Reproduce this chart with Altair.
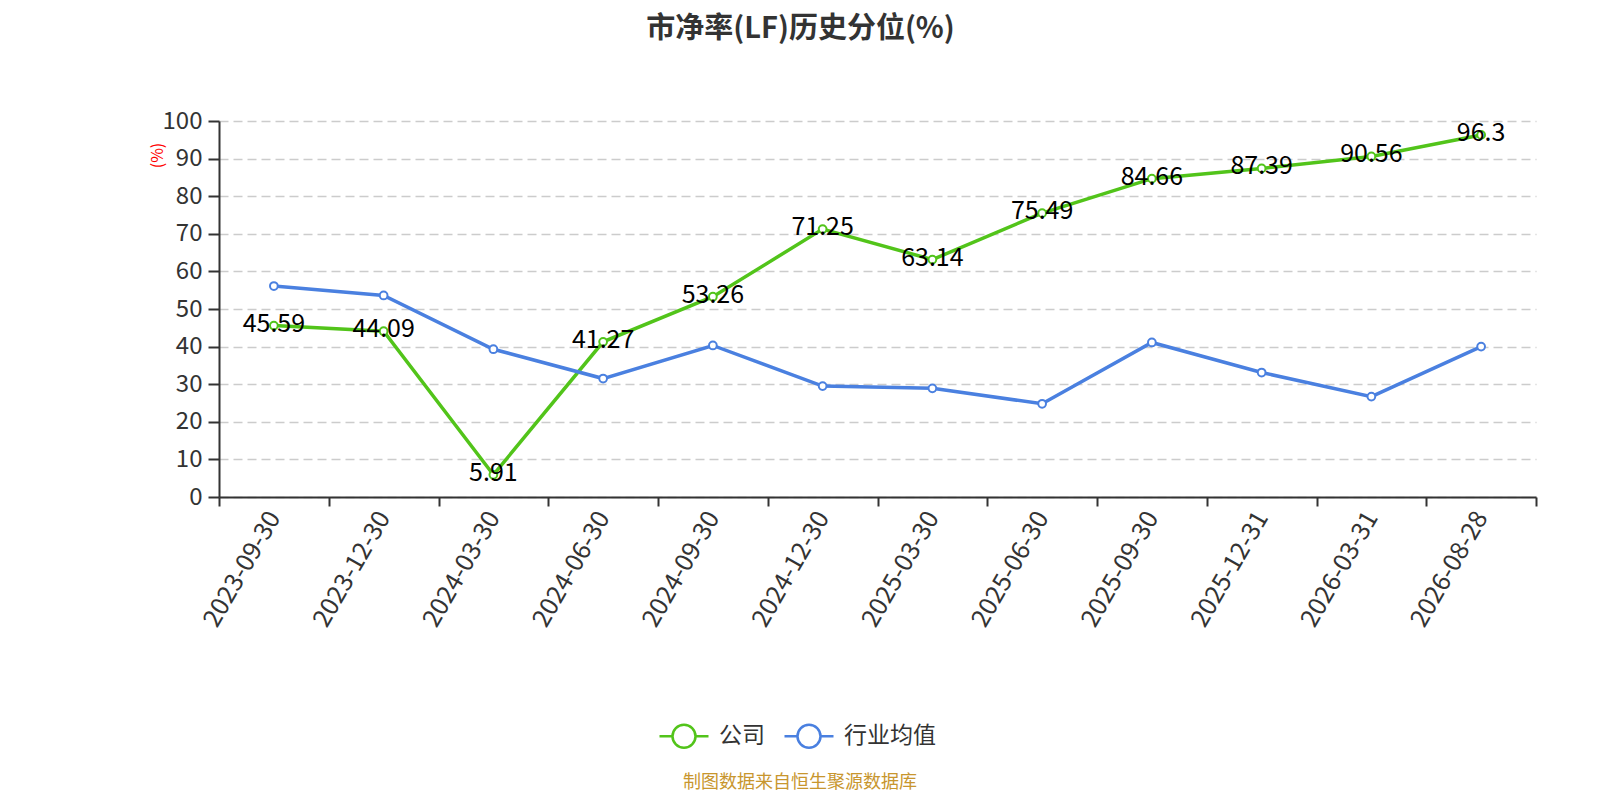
import altair as alt
import pandas as pd

dates = ["2023-09-30", "2023-12-30", "2024-03-30", "2024-06-30", "2024-09-30", "2024-12-30",
         "2025-03-30", "2025-06-30", "2025-09-30", "2025-12-31", "2026-03-31", "2026-08-28"]
company = [45.59, 44.09, 5.91, 41.27, 53.26, 71.25, 63.14, 75.49, 84.66, 87.39, 90.56, 96.3]
industry = [56.1, 53.6, 39.3, 31.5, 40.3, 29.5, 28.9, 24.8, 41.1, 33.1, 26.7, 40.0]
series_names = ["公司", "行业均值"]
series_colors = ["#52c41a", "#4a80e0"]
y_ticks = list(range(0, 101, 10))

rows = []
for d, c, i in zip(dates, company, industry):
    rows.append({"date": d, "series": series_names[0], "value": c, "label": f"{c:g}"})
    rows.append({"date": d, "series": series_names[1], "value": i, "label": ""})
df = pd.DataFrame(rows)
df_company = df[df["series"] == series_names[0]]

FONT = "Noto Sans CJK SC"
W, H = 1317, 376

x_enc = alt.X(
    "date:N",
    sort=dates,
    bandPosition=0.5,
    scale=alt.Scale(type="band", paddingInner=0, paddingOuter=0),
    axis=alt.Axis(
        title=None,
        labelAngle=-60,
        labelFontSize=25,
        labelColor="#333333",
        labelPadding=7,
        tickBand="extent",
        tickSize=9,
        tickColor="#333333",
        tickWidth=2,
        domainColor="#333333",
        domainWidth=2,
        grid=False,
    ),
)
y_enc = alt.Y(
    "value:Q",
    scale=alt.Scale(domain=[0, 100], nice=False),
    axis=alt.Axis(
        values=y_ticks,
        title="(%)",
        titleColor="red",
        titleFontSize=16,
        titleFontWeight="normal",
        titleAngle=-90,
        titleX=-62,
        titleY=34,
        titleAlign="center",
        titleBaseline="middle",
        labelFontSize=24,
        labelColor="#333333",
        labelPadding=6,
        tickSize=11,
        tickColor="#333333",
        tickWidth=2,
        domainColor="#333333",
        domainWidth=2,
        grid=True,
        gridColor="#cccccc",
        gridDash=[9, 5],
        gridWidth=1.5,
    ),
)
color_enc = alt.Color(
    "series:N",
    scale=alt.Scale(domain=series_names, range=series_colors),
    legend=alt.Legend(
        title=None,
        orient="none",
        direction="horizontal",
        legendX=439,
        legendY=589,
        symbolType="M-1,0L-0.47,0M0.47,0L1,0M0.47,0A0.47,0.47 0 1,1 -0.47,0A0.47,0.47 0 1,1 0.47,0Z",
        symbolSize=2401,
        symbolStrokeWidth=2.5,
        symbolFillColor="white",
        labelFontSize=23,
        labelColor="#333333",
        labelOffset=9,
        columnPadding=14,
    ),
)

lines = alt.Chart(df).mark_line(strokeWidth=3.5).encode(x=x_enc, y=y_enc, color=color_enc)
points = alt.Chart(df).mark_point(filled=False, fill="white", size=60, strokeWidth=2, opacity=1).encode(
    x=x_enc, y=y_enc, color=alt.Color("series:N", scale=alt.Scale(domain=series_names, range=series_colors), legend=None)
)
labels = alt.Chart(df_company).mark_text(fontSize=25, color="black", align="center", baseline="middle", dy=-2).encode(
    x=x_enc, y=y_enc, text="label:N"
)
footer = alt.Chart(pd.DataFrame({"t": ["制图数据来自恒生聚源数据库"]})).mark_text(
    fontSize=18, color="#c8962e", align="center", baseline="middle"
).encode(x=alt.value(581), y=alt.value(662), text="t:N")

chart = alt.layer(lines, points, labels, footer).properties(
    width=W,
    height=H,
    title=alt.TitleParams(
        "市净率(LF)历史分位(%)",
        fontSize=29,
        fontWeight="bold",
        color="#333333",
        anchor="middle",
        dx=-77,
        offset=65,
        font=FONT,
    ),
    autosize=alt.AutoSizeParams(type="none"),
    padding={"left": 211, "top": 113, "right": 40, "bottom": 295},
).configure(font=FONT).configure_view(stroke=None)

chart.save("out.html", embed_options={"renderer": "svg", "actions": False})
